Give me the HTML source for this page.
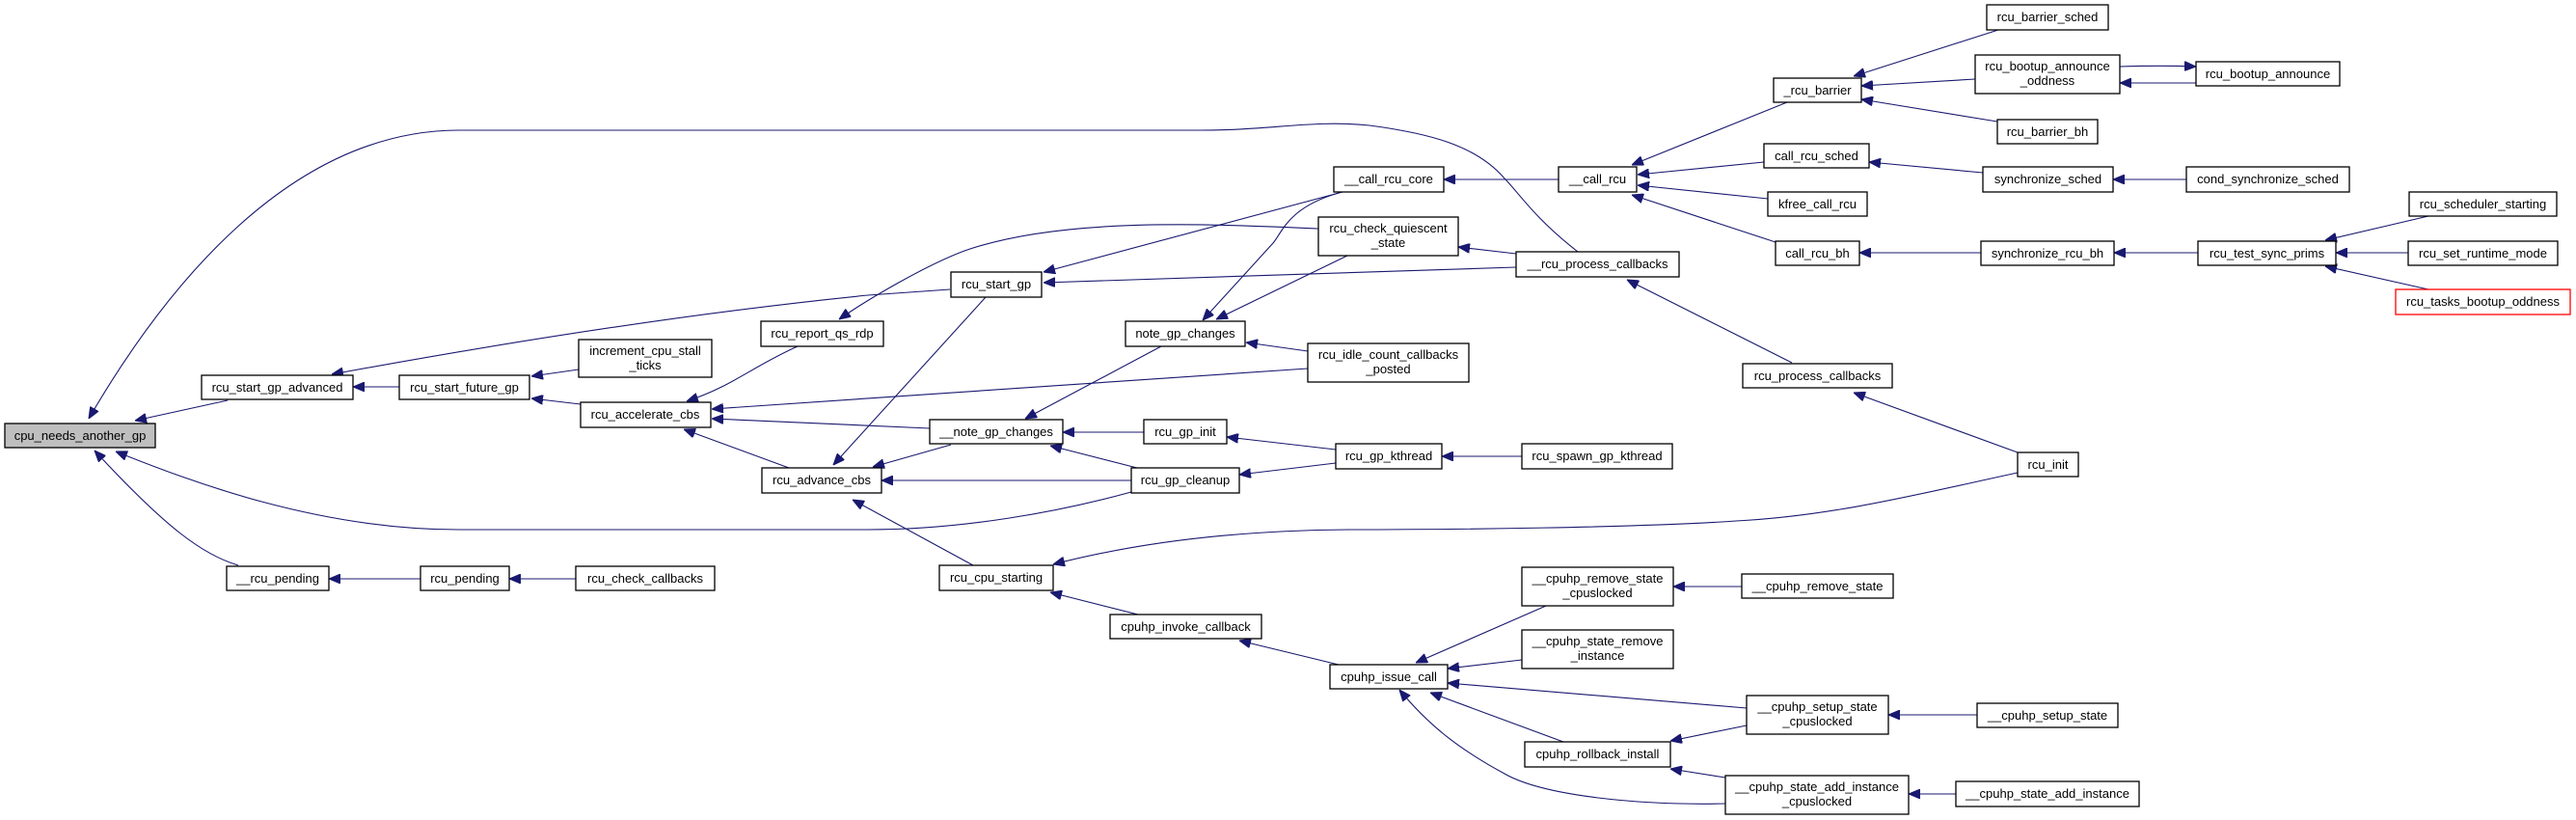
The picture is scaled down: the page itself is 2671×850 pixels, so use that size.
<!DOCTYPE html>
<html><head><meta charset="utf-8"><style>
html,body{margin:0;padding:0;background:#fff;}
svg{display:block;}
text{font-family:"Liberation Sans",sans-serif;font-size:13px;fill:#000;}
.b{fill:#fff;stroke:#000;stroke-width:1.3;}
.e{fill:none;stroke:#191970;stroke-width:1.1;marker-end:url(#a);}
</style></head><body>
<svg width="2671" height="850" viewBox="0 0 2671 850" xmlns="http://www.w3.org/2000/svg">
<defs><marker id="a" markerWidth="12" markerHeight="10" refX="12" refY="5" orient="auto" markerUnits="userSpaceOnUse"><path d="M0,0 L12,5 L0,10 Z" fill="#191970" stroke="#191970"/></marker></defs>
<g>
<path class="e" d="M1636,261 C1590,225 1575,200 1560,185 C1530,150 1480,138 1420,130 C1360,124 1320,135 1244,135 L476,135 C300,135 170,300 92,434"/>
<path class="e" d="M236,415 L140,436"/>
<path class="e" d="M1173,510 C1100,530 1000,549 900,549 L476,549 C330,549 200,500 120,468"/>
<path class="e" d="M247,586 C210,575 172,547 98,467"/>
<path class="e" d="M436,600 L341,600"/>
<path class="e" d="M597,600 L528,600"/>
<path class="e" d="M414,401 L366,401"/>
<path class="e" d="M985,300 L900,306 C780,318 600,341 344,388"/>
<path class="e" d="M600,383 L551,390"/>
<path class="e" d="M602,419 L551,413"/>
<path class="e" d="M827,359 C780,380 760,400 712,416"/>
<path class="e" d="M1356,382 L738,424"/>
<path class="e" d="M964,444 L738,434"/>
<path class="e" d="M818,485 L709,445"/>
<path class="e" d="M1367,237 C1250,232 1100,225 1000,260 C960,275 900,310 870,331"/>
<path class="e" d="M1022,308 L864,482"/>
<path class="e" d="M1572,277 L1082,293"/>
<path class="e" d="M1392,199 L1082,282"/>
<path class="e" d="M1616,186 L1497,186"/>
<path class="e" d="M1388,200 C1336,215 1330,240 1320,252 L1247,332"/>
<path class="e" d="M1397,265 L1261,331"/>
<path class="e" d="M1356,364 L1292,355"/>
<path class="e" d="M1572,263 L1512,256"/>
<path class="e" d="M1204,359 L1063,434"/>
<path class="e" d="M1186,448 L1102,448"/>
<path class="e" d="M1179,485 L1089,462"/>
<path class="e" d="M1385,466 L1272,453"/>
<path class="e" d="M1385,480 L1285,492"/>
<path class="e" d="M1578,473 L1495,473"/>
<path class="e" d="M986,461 L905,484"/>
<path class="e" d="M1173,498 L914,498"/>
<path class="e" d="M1009,586 L884,518"/>
<path class="e" d="M2092,490 C1990,512 1900,535 1800,540 C1700,547 1500,549 1399,549 C1250,550 1150,570 1092,585"/>
<path class="e" d="M1858,376 L1687,290"/>
<path class="e" d="M2092,469 L1922,407"/>
<path class="e" d="M1853,106 L1692,171"/>
<path class="e" d="M1829,168 L1698,181"/>
<path class="e" d="M1833,206 L1698,192"/>
<path class="e" d="M1841,251 L1692,202"/>
<path class="e" d="M2072,31 L1922,79"/>
<path class="e" d="M2048,82 L1930,89"/>
<path class="e" d="M2071,126 L1930,103"/>
<path class="e" d="M2198,69 C2230,68 2250,68 2277,69"/>
<path class="e" d="M2277,86 C2250,86 2230,86 2198,86"/>
<path class="e" d="M2056,179 L1938,168"/>
<path class="e" d="M2267,186 L2191,186"/>
<path class="e" d="M2054,262 L1928,262"/>
<path class="e" d="M2279,262 L2192,262"/>
<path class="e" d="M2518,224 L2411,249"/>
<path class="e" d="M2497,262 L2422,262"/>
<path class="e" d="M2518,300 L2411,276"/>
<path class="e" d="M1180,637 L1089,614"/>
<path class="e" d="M1388,689 L1285,664"/>
<path class="e" d="M1603,628 L1468,687"/>
<path class="e" d="M1578,684 L1501,693"/>
<path class="e" d="M1811,734 L1501,708"/>
<path class="e" d="M1621,769 L1483,718"/>
<path class="e" d="M1789,833 C1700,835 1600,825 1560,802 C1510,775 1480,750 1451,715"/>
<path class="e" d="M1806,608 L1735,608"/>
<path class="e" d="M1811,752 L1732,768"/>
<path class="e" d="M1789,806 L1732,797"/>
<path class="e" d="M2050,741 L1958,741"/>
<path class="e" d="M2028,823 L1979,823"/>
</g>
<g text-anchor="middle">
<rect x="5" y="439" width="156" height="25" fill="#bfbfbf" stroke="#000" stroke-width="1.3"/><text x="83" y="456">cpu_needs_another_gp</text>
<rect class="b" x="209" y="389" width="157" height="25"/><text x="287.5" y="406">rcu_start_gp_advanced</text>
<rect class="b" x="414" y="389" width="135" height="25"/><text x="481.5" y="406">rcu_start_future_gp</text>
<rect class="b" x="600" y="352" width="138" height="39"/><text x="669" y="368">increment_cpu_stall</text><text x="669" y="383">_ticks</text>
<rect class="b" x="602" y="417" width="135" height="26"/><text x="669" y="434">rcu_accelerate_cbs</text>
<rect class="b" x="789" y="333" width="127" height="26"/><text x="852.5" y="350">rcu_report_qs_rdp</text>
<rect class="b" x="790" y="485" width="124" height="26"/><text x="852" y="502">rcu_advance_cbs</text>
<rect class="b" x="235" y="587" width="106" height="25"/><text x="288" y="604">__rcu_pending</text>
<rect class="b" x="436" y="587" width="92" height="25"/><text x="482" y="604">rcu_pending</text>
<rect class="b" x="597" y="587" width="144" height="25"/><text x="669" y="604">rcu_check_callbacks</text>
<rect class="b" x="1383" y="173" width="114" height="26"/><text x="1440" y="190">__call_rcu_core</text>
<rect class="b" x="1616" y="173" width="81" height="26"/><text x="1656.5" y="190">__call_rcu</text>
<rect class="b" x="1367" y="225" width="145" height="40"/><text x="1439.5" y="241">rcu_check_quiescent</text><text x="1439.5" y="256">_state</text>
<rect class="b" x="1572" y="261" width="169" height="26"/><text x="1656.5" y="278">__rcu_process_callbacks</text>
<rect class="b" x="986" y="282" width="94" height="26"/><text x="1033" y="299">rcu_start_gp</text>
<rect class="b" x="1167" y="333" width="124" height="26"/><text x="1229" y="350">note_gp_changes</text>
<rect class="b" x="1356" y="356" width="167" height="40"/><text x="1439.5" y="372">rcu_idle_count_callbacks</text><text x="1439.5" y="387">_posted</text>
<rect class="b" x="964" y="435" width="138" height="25"/><text x="1033" y="452">__note_gp_changes</text>
<rect class="b" x="1186" y="435" width="86" height="25"/><text x="1229" y="452">rcu_gp_init</text>
<rect class="b" x="1385" y="460" width="110" height="26"/><text x="1440" y="477">rcu_gp_kthread</text>
<rect class="b" x="1578" y="460" width="156" height="26"/><text x="1656" y="477">rcu_spawn_gp_kthread</text>
<rect class="b" x="1173" y="485" width="112" height="26"/><text x="1229" y="502">rcu_gp_cleanup</text>
<rect class="b" x="974" y="586" width="118" height="26"/><text x="1033" y="603">rcu_cpu_starting</text>
<rect class="b" x="1151" y="637" width="157" height="25"/><text x="1229.5" y="654">cpuhp_invoke_callback</text>
<rect class="b" x="1379" y="689" width="122" height="25"/><text x="1440" y="706">cpuhp_issue_call</text>
<rect class="b" x="1578" y="588" width="157" height="40"/><text x="1656.5" y="604">__cpuhp_remove_state</text><text x="1656.5" y="619">_cpuslocked</text>
<rect class="b" x="1578" y="653" width="157" height="40"/><text x="1656.5" y="669">__cpuhp_state_remove</text><text x="1656.5" y="684">_instance</text>
<rect class="b" x="1581" y="769" width="151" height="26"/><text x="1656.5" y="786">cpuhp_rollback_install</text>
<rect class="b" x="1839" y="81" width="91" height="25"/><text x="1884.5" y="98">_rcu_barrier</text>
<rect class="b" x="2060" y="5" width="126" height="26"/><text x="2123" y="22">rcu_barrier_sched</text>
<rect class="b" x="2048" y="57" width="150" height="40"/><text x="2123" y="73">rcu_bootup_announce</text><text x="2123" y="88">_oddness</text>
<rect class="b" x="2277" y="64" width="149" height="25"/><text x="2351.5" y="81">rcu_bootup_announce</text>
<rect class="b" x="2071" y="124" width="104" height="25"/><text x="2123" y="141">rcu_barrier_bh</text>
<rect class="b" x="1829" y="149" width="109" height="25"/><text x="1883.5" y="166">call_rcu_sched</text>
<rect class="b" x="2056" y="173" width="135" height="26"/><text x="2123.5" y="190">synchronize_sched</text>
<rect class="b" x="2267" y="173" width="169" height="26"/><text x="2351.5" y="190">cond_synchronize_sched</text>
<rect class="b" x="1833" y="199" width="103" height="25"/><text x="1884.5" y="216">kfree_call_rcu</text>
<rect class="b" x="1841" y="250" width="87" height="25"/><text x="1884.5" y="267">call_rcu_bh</text>
<rect class="b" x="2054" y="250" width="138" height="25"/><text x="2123" y="267">synchronize_rcu_bh</text>
<rect class="b" x="2279" y="250" width="143" height="25"/><text x="2350.5" y="267">rcu_test_sync_prims</text>
<rect class="b" x="2498" y="199" width="153" height="25"/><text x="2574.5" y="216">rcu_scheduler_starting</text>
<rect class="b" x="2497" y="250" width="155" height="25"/><text x="2574.5" y="267">rcu_set_runtime_mode</text>
<rect x="2484" y="300" width="181" height="26" fill="#fff" stroke="#ff0000" stroke-width="1.3"/><text x="2574.5" y="317">rcu_tasks_bootup_oddness</text>
<rect class="b" x="1807" y="377" width="155" height="25"/><text x="1884.5" y="394">rcu_process_callbacks</text>
<rect class="b" x="2092" y="469" width="63" height="25"/><text x="2123.5" y="486">rcu_init</text>
<rect class="b" x="1806" y="595" width="157" height="25"/><text x="1884.5" y="612">__cpuhp_remove_state</text>
<rect class="b" x="1811" y="721" width="147" height="40"/><text x="1884.5" y="737">__cpuhp_setup_state</text><text x="1884.5" y="752">_cpuslocked</text>
<rect class="b" x="2050" y="729" width="146" height="25"/><text x="2123" y="746">__cpuhp_setup_state</text>
<rect class="b" x="1789" y="804" width="190" height="40"/><text x="1884" y="820">__cpuhp_state_add_instance</text><text x="1884" y="835">_cpuslocked</text>
<rect class="b" x="2028" y="810" width="190" height="26"/><text x="2123" y="827">__cpuhp_state_add_instance</text>
</g>
</svg>
</body></html>
